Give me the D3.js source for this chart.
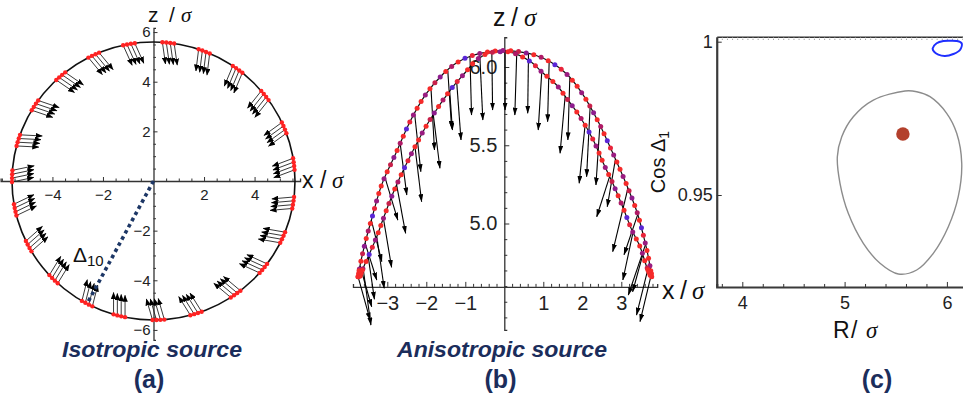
<!DOCTYPE html>
<html><head><meta charset="utf-8">
<script src="https://cdn.jsdelivr.net/npm/d3@7/dist/d3.min.js"></script>
<style>
html,body{margin:0;padding:0;background:#fff;}
svg{display:block;}
text{font-family:"Liberation Sans",Arial,sans-serif;}
</style></head>
<body>
<svg id="fig" width="963" height="400"></svg>
<script>
// ---------------- data ----------------
// (a) isotropic source: ring of sources, each group sends a bundle of arrows inward
const isoRadius = 5.6;
const isoGroupAngles = [7, 22.5, 38, 53.5, 69, 84, 100, 115, 131, 147, 163, 178,
                        192, 208, 225, 242, 256, 272, 287.5, 305.5, 321, 336, 351];
const isoDotOffsets = [-2.4, -0.8, 0.8, 2.4];   // degrees, spread of a group
const isoArrowLength = 0.88;                    // sigma units
const isoArrowTurn = 14;                        // degrees off the inward radius
const isoDeltaGroup = 15;                       // group joined to the origin (Δ10)
const isoXTicks = [-4, -2, 2, 4];
const isoZTicks = [-6, -4, -2, 2, 4, 6];

// (b) anisotropic source: outer and inner rings (x, z in sigma units)
const outerX = [-3.75, -3.70, -3.57, -3.40, -3.14, -2.78, -2.40, -2.00, -1.57, -1.20, -0.80, -0.40, 0,
                0.40, 0.80, 1.20, 1.60, 2.00, 2.40, 2.80, 3.14, 3.40, 3.56, 3.69, 3.78];
const outerZ = [4.66, 4.73, 4.875, 5.03, 5.25, 5.449, 5.66, 5.83, 5.955, 6.03, 6.075, 6.097, 6.105,
                6.097, 6.075, 6.03, 5.955, 5.83, 5.655, 5.44, 5.245, 5.075, 4.93, 4.79, 4.66];
const innerX = [-3.70, -3.62, -3.49, -3.27, -3.10, -2.80, -2.29, -1.91, -1.35, -1.00, -0.71, -0.41, 0,
                0.23, 0.66, 1.00, 1.34, 1.60, 1.94, 2.28, 2.54, 2.79, 3.05, 3.27, 3.48, 3.65, 3.74];
const innerZ = [4.665, 4.714, 4.788, 4.916, 5.033, 5.225, 5.49, 5.661, 5.864, 5.965, 6.045, 6.088, 6.098,
                6.09, 6.036, 5.96, 5.885, 5.80, 5.682, 5.534, 5.385, 5.252, 5.097, 4.958, 4.852, 4.724, 4.67];
// arrows: tail position along a ring ("o" outer, "i" inner) and head point
const arrowTailX = [-3.62, -3.75, -3.70, -3.49, -3.57, -3.27, -3.41, -3.10, -3.06, -2.76, -2.67, -2.29,
                    -2.30, -1.82, -1.88, -1.40, -1.45, -1.22, -0.88, -0.63, -0.32, 0.02,
                    0.32, 0.62, 0.96, 1.15, 1.56, 1.68, 2.07, 2.20, 2.45, 2.70, 2.85, 3.17,
                    3.42, 3.30, 3.62, 3.55, 3.72, 3.77];
const arrowRing =  ["i", "o", "o", "i", "o", "i", "o", "i", "o", "i", "o", "i",
                    "o", "i", "o", "i", "o", "i", "o", "o", "o", "o",
                    "o", "o", "i", "o", "i", "o", "i", "o", "o", "i", "o", "o",
                    "o", "i", "o", "i", "o", "o"];
const arrowHeadX = [-3.42, -3.44, -3.40, -3.33, -3.27, -3.08, -3.14, -2.89, -2.73, -2.53, -2.50, -2.12,
                    -2.14, -1.65, -1.79, -1.33, -1.35, -1.11, -0.84, -0.55, -0.30, 0.02,
                    0.27, 0.60, 0.87, 1.11, 1.43, 1.63, 1.92, 2.11, 2.35, 2.37, 2.64, 2.78,
                    3.07, 3.04, 3.18, 3.29, 3.39, 3.48];
const arrowHeadZ = [4.351, 4.383, 4.468, 4.516, 4.639, 4.586, 4.756, 4.72, 5.022, 4.937, 5.182, 5.139,
                    5.331, 5.353, 5.470, 5.597, 5.608, 5.534, 5.693, 5.661, 5.725, 5.725,
                    5.693, 5.704, 5.597, 5.650, 5.449, 5.534, 5.257, 5.299, 5.246, 5.043, 5.107, 4.82,
                    4.80, 4.639, 4.543, 4.564, 4.415, 4.373];
const anisoXTicks = [-3, -2, -1, 1, 2, 3];
const anisoZTicks = [5.0, 5.5, 6.0];

// (c) confidence contour in the (R, cos Δ1) plane
const contourR =   [5.590, 5.705, 5.835, 5.998, 6.096, 6.145, 6.111, 6.014, 5.867, 5.705, 5.525, 5.346,
                    5.183, 5.036, 4.955, 4.929, 4.972, 5.085, 5.281];
const contourCos = [0.98392, 0.98369, 0.98206, 0.97665, 0.97012, 0.96034, 0.94945, 0.93966, 0.93098,
                    0.92554, 0.92423, 0.92772, 0.93425, 0.94403, 0.95382, 0.96249, 0.96902, 0.97554, 0.98098];
const blueR =   [5.861, 5.900, 5.965, 6.030, 6.095, 6.144, 6.128, 6.063, 5.982, 5.916, 5.874];
const blueCos = [0.99785, 0.99948, 1.00023, 1.00033, 1.00023, 0.99948, 0.99729, 0.99598, 0.99533, 0.99576, 0.99674];
const bestR = [5.57];
const bestCos = [0.9699];
const cXTicks = [4, 5, 6];
const cYTicks = [0.95, 1];

// ---------------- drawing ----------------
const svg = d3.select("#fig");
const defs = svg.append("defs");
function addHead(id, len, wid) {
  defs.append("marker").attr("id", id)
    .attr("viewBox", `0 0 ${len} ${wid}`).attr("refX", len - 0.5).attr("refY", wid / 2)
    .attr("markerWidth", len).attr("markerHeight", wid)
    .attr("markerUnits", "userSpaceOnUse").attr("orient", "auto")
    .append("path").attr("d", `M0,0L${len},${wid / 2}L0,${wid}Z`).attr("fill", "#000");
}
addHead("headA", 7, 5.5);
addHead("headB", 8, 5);

const FONT = '"Liberation Sans", Arial, sans-serif';
function styleAxis(g, size) {
  g.attr("font-family", FONT).attr("font-size", size);
  g.select(".domain").attr("stroke", "#333").attr("stroke-width", 1.3);
  g.selectAll(".tick line").attr("stroke", "#333").attr("stroke-width", 1);
  g.selectAll(".tick text").attr("fill", "#222");
}
function extendScale(s, lo, hi) {
  return s.copy().domain([lo, hi]).range([s(lo), s(hi)]);
}
function minorValues(lo, hi, step, skip) {
  return d3.range(Math.ceil(lo / step) * step, hi + 1e-9, step)
    .filter(v => !skip.some(m => Math.abs(m - v) < 1e-6));
}
function axisLabel(x, y, parts, size) {
  const t = svg.append("text").attr("x", x).attr("y", y).attr("font-size", size).attr("fill", "#111");
  parts.forEach(p => {
    const s = t.append("tspan").attr("x", p[1]).text(p[0]);
    if (p[2]) s.attr("font-style", "italic").attr("font-family", '"Liberation Serif", serif');
  });
  return t;
}

// ===== (a) =====
const xA = d3.scaleLinear().domain([-isoRadius, isoRadius]).range([12, 295]);
const zA = d3.scaleLinear().domain([-isoRadius, isoRadius]).range([320, 42]);
const gA = svg.append("g");
const xAxA = extendScale(xA, -6.05, 5.8);
const zAxA = extendScale(zA, -6.4, 6.17);

gA.append("g").attr("transform", `translate(0,${zA(0)})`)
  .call(d3.axisBottom(xAxA).tickValues(minorValues(-6, 5.8, 0.5, [0, ...isoXTicks])).tickSize(-2.5).tickFormat(""))
  .call(g => styleAxis(g, 15));
gA.append("g").attr("transform", `translate(0,${zA(0)})`)
  .call(d3.axisBottom(xAxA).tickValues(isoXTicks).tickSizeInner(-4).tickSizeOuter(0).tickPadding(8))
  .call(g => { styleAxis(g, 15); g.select(".domain").remove(); });
gA.append("g").attr("transform", `translate(${xA(0)},0)`)
  .call(d3.axisLeft(zAxA).tickValues(minorValues(-6.4, 6.17, 0.5, [0, ...isoZTicks])).tickSize(-2.5).tickFormat(""))
  .call(g => styleAxis(g, 15));
gA.append("g").attr("transform", `translate(${xA(0)},0)`)
  .call(d3.axisLeft(zAxA).tickValues(isoZTicks).tickSizeInner(-4).tickSizeOuter(0).tickPadding(3))
  .call(g => { styleAxis(g, 15); g.select(".domain").remove(); });

gA.append("ellipse")
  .attr("cx", xA(0)).attr("cy", zA(0))
  .attr("rx", xA(isoRadius) - xA(0)).attr("ry", zA(0) - zA(isoRadius))
  .attr("fill", "none").attr("stroke", "#111").attr("stroke-width", 1.6);

const rad = Math.PI / 180;
const isoArrows = [], isoDots = [];
isoGroupAngles.forEach(a => {
  const dir = (a + 180 + isoArrowTurn) * rad;
  isoDotOffsets.forEach(off => {
    const t = (a + off) * rad;
    const px = isoRadius * Math.cos(t), pz = isoRadius * Math.sin(t);
    isoDots.push([px, pz]);
    isoArrows.push([px, pz, px + isoArrowLength * Math.cos(dir), pz + isoArrowLength * Math.sin(dir)]);
  });
});
gA.append("g").selectAll("line").data(isoArrows).join("line")
  .attr("x1", d => xA(d[0])).attr("y1", d => zA(d[1]))
  .attr("x2", d => xA(d[2])).attr("y2", d => zA(d[3]))
  .attr("stroke", "#222").attr("stroke-width", 0.9).attr("marker-end", "url(#headA)");
gA.append("g").selectAll("circle").data(isoDots).join("circle")
  .attr("cx", d => xA(d[0])).attr("cy", d => zA(d[1])).attr("r", 2.2).attr("fill", "#ff2222");

// dotted line from the origin to one source group
const dA = isoGroupAngles[isoDeltaGroup] * rad;
gA.append("line")
  .attr("x1", xA(0)).attr("y1", zA(0))
  .attr("x2", xA(isoRadius * Math.cos(dA))).attr("y2", zA(isoRadius * Math.sin(dA)))
  .attr("stroke", "#1d3766").attr("stroke-width", 3.6).attr("stroke-dasharray", "3.6,3.4");
const dl = gA.append("text").attr("x", 73).attr("y", 262).attr("font-family", '"Liberation Serif", serif')
  .attr("font-size", 21).attr("fill", "#111");
dl.append("tspan").text("Δ");
dl.append("tspan").attr("font-size", 15).attr("dy", 4).text("10");

axisLabel(0, 22, [["z", 148], ["/", 169], ["σ", 181, true]], 21);
axisLabel(0, 188, [["x", 302], ["/", 320], ["σ", 332, true]], 23);

// ===== (b) =====
const xB = d3.scaleLinear().domain([0, 1]).range([504.3, 543.3]);
const zB = d3.scaleLinear().domain([5, 6]).range([223.5, 67]);
const gB = svg.append("g");
const xAxB = extendScale(xB, -3.88, 3.92);
const zAxB = extendScale(zB, 4.32, 6.19);
const zOriginB = 4.595;

gB.append("g").attr("transform", `translate(0,${zB(zOriginB)})`)
  .call(d3.axisBottom(xAxB).tickValues(minorValues(-3.8, 3.9, 0.2, [0, ...anisoXTicks])).tickSize(-3).tickFormat(""))
  .call(g => styleAxis(g, 20));
gB.append("g").attr("transform", `translate(0,${zB(zOriginB)})`)
  .call(d3.axisBottom(xAxB).tickValues(anisoXTicks).tickSizeInner(-5).tickSizeOuter(0).tickPadding(9))
  .call(g => { styleAxis(g, 20); g.select(".domain").remove(); });
gB.append("g").attr("transform", `translate(${xB(0)},0)`)
  .call(d3.axisLeft(zAxB).tickValues(minorValues(4.4, 6.19, 0.1, anisoZTicks)).tickSize(-3).tickFormat(""))
  .call(g => styleAxis(g, 20));
gB.append("g").attr("transform", `translate(${xB(0)},0)`)
  .call(d3.axisLeft(zAxB).tickValues(anisoZTicks).tickFormat(d3.format(".1f")).tickSizeInner(-5).tickSizeOuter(0).tickPadding(7))
  .call(g => { styleAxis(g, 20); g.select(".domain").remove(); });

const rings = {
  o: outerX.map((x, i) => [x, outerZ[i]]),
  i: innerX.map((x, i) => [x, innerZ[i]])
};
const ringLine = d3.line().x(d => xB(d[0])).y(d => zB(d[1])).curve(d3.curveCatmullRom);
const ringPaths = ["o", "i"].map(k => gB.append("path").attr("d", ringLine(rings[k]))
  .attr("fill", "none").attr("stroke", "#111").attr("stroke-width", 1.2).node());

function ringZ(k, x) {
  const pts = rings[k];
  for (let j = 0; j < pts.length - 1; j++) {
    const a = pts[j], b = pts[j + 1];
    if (x >= a[0] && x <= b[0]) return a[1] + (b[1] - a[1]) * (x - a[0]) / (b[0] - a[0]);
  }
  return x < pts[0][0] ? pts[0][1] : pts[pts.length - 1][1];
}
const anisoArrows = arrowTailX.map((x, i) => [x, ringZ(arrowRing[i], x), arrowHeadX[i], arrowHeadZ[i]]);
gB.append("g").selectAll("line").data(anisoArrows).join("line")
  .attr("x1", d => xB(d[0])).attr("y1", d => zB(d[1]))
  .attr("x2", d => xB(d[2])).attr("y2", d => zB(d[3]))
  .attr("stroke", "#000").attr("stroke-width", 1.1).attr("marker-end", "url(#headB)");

// coloured source points along each ring
const dotCycle = ["#f52a2a", "#9a1c80", "#f52a2a", "#c8204a", "#8e1c8e", "#f52a2a",
                  "#b01a66", "#f52a2a", "#5a26d6", "#e8243a", "#9a1c80", "#f52a2a"];
const ringDots = [];
ringPaths.forEach((p, pi) => {
  const L = p.getTotalLength();
  let n = 0;
  for (let s = 0; s <= L; s += 7.8) {
    const q = p.getPointAtLength(s);
    ringDots.push([q.x, q.y, dotCycle[(n + pi * 5) % dotCycle.length]]);
    n++;
  }
  [0, 3, 6, L - 6, L - 3, L].forEach(s => {
    const q = p.getPointAtLength(s);
    ringDots.push([q.x, q.y, "#f52a2a"]);
  });
});
gB.append("g").selectAll("circle").data(ringDots).join("circle")
  .attr("cx", d => d[0]).attr("cy", d => d[1]).attr("r", 2.5).attr("fill", d => d[2]);

axisLabel(0, 26, [["z", 493], ["/", 511], ["σ", 524, true]], 25);
axisLabel(0, 299, [["x", 662], ["/", 680], ["σ", 692, true]], 25);

// ===== (c) =====
const xC = d3.scaleLinear().domain([4, 5]).range([742.3, 844.6]);
const yC = d3.scaleLinear().domain([0.95, 1.0]).range([195, 41.7]);
const gC = svg.append("g");
const frameR = [3.75, 6.3], frameCos = [0.92, 1.0016];
const xAxC = extendScale(xC, frameR[0], frameR[1]);
const yAxC = extendScale(yC, frameCos[0], frameCos[1]);

gC.append("g").attr("transform", `translate(0,${yC(frameCos[1])})`)
  .call(d3.axisBottom(xAxC).tickValues(minorValues(3.8, 6.3, 0.05, [])).tickSizeInner(3).tickSizeOuter(0).tickFormat(""))
  .call(g => { styleAxis(g, 18); g.selectAll(".tick line").attr("stroke", "#888").attr("stroke-dasharray", "1,1");
               g.select(".domain").attr("stroke-width", 1.6); });
gC.append("g").attr("transform", `translate(0,${yC(frameCos[0])})`)
  .call(d3.axisBottom(xAxC).tickValues(minorValues(3.8, 6.3, 0.2, cXTicks)).tickSize(-3).tickFormat(""))
  .call(g => { styleAxis(g, 18); g.select(".domain").attr("stroke-width", 2.2).attr("stroke", "#3a3a3a"); });
gC.append("g").attr("transform", `translate(0,${yC(frameCos[0])})`)
  .call(d3.axisBottom(xAxC).tickValues(cXTicks).tickFormat(d3.format("d")).tickSizeInner(-5).tickSizeOuter(0).tickPadding(9))
  .call(g => { styleAxis(g, 18); g.select(".domain").remove(); });
gC.append("g").attr("transform", `translate(${xC(frameR[0])},0)`)
  .call(d3.axisLeft(yAxC).tickValues(cYTicks).tickFormat(d => d === 1 ? "1" : d3.format(".2f")(d))
        .tickSizeInner(-5).tickSizeOuter(0).tickPadding(4))
  .call(g => { styleAxis(g, 18); g.select(".domain").attr("stroke-width", 2.2).attr("stroke", "#3a3a3a"); });

const loop = d3.line().x(d => xC(d[0])).y(d => yC(d[1])).curve(d3.curveCatmullRomClosed);
gC.append("path").attr("d", loop(contourR.map((r, i) => [r, contourCos[i]])))
  .attr("fill", "none").attr("stroke", "#8c8c8c").attr("stroke-width", 1.4);
gC.append("path").attr("d", loop(blueR.map((r, i) => [r, blueCos[i]])))
  .attr("fill", "none").attr("stroke", "#1f2fff").attr("stroke-width", 2);
gC.selectAll("circle.best").data(bestR).join("circle").attr("class", "best")
  .attr("cx", d => xC(d)).attr("cy", (d, i) => yC(bestCos[i])).attr("r", 6.7).attr("fill", "#b3402c");

axisLabel(0, 338, [["R", 833], ["/", 851], ["σ", 866, true]], 23);
const cy = svg.append("text").attr("transform", "translate(665,162) rotate(-90)")
  .attr("text-anchor", "middle").attr("font-size", 20).attr("fill", "#111");
cy.append("tspan").text("Cos Δ");
cy.append("tspan").attr("font-size", 14).attr("dy", 4).text("1");

// ===== captions =====
const NAVY = "#1b2d5b";
function caption(text, x0, x1) {
  svg.append("text").attr("x", x0).attr("y", 357).attr("font-size", 22)
    .attr("font-weight", "bold").attr("font-style", "italic").attr("fill", NAVY)
    .attr("textLength", x1 - x0).attr("lengthAdjust", "spacingAndGlyphs").text(text);
}
caption("Isotropic source", 62, 242);
caption("Anisotropic source", 397, 607);
[["(a)", 149], ["(b)", 500.5], ["(c)", 877]].forEach(([t, x]) => {
  svg.append("text").attr("x", x).attr("y", 388).attr("text-anchor", "middle")
    .attr("font-size", 25).attr("font-weight", "bold").attr("fill", NAVY).text(t);
});
</script>
</body></html>
